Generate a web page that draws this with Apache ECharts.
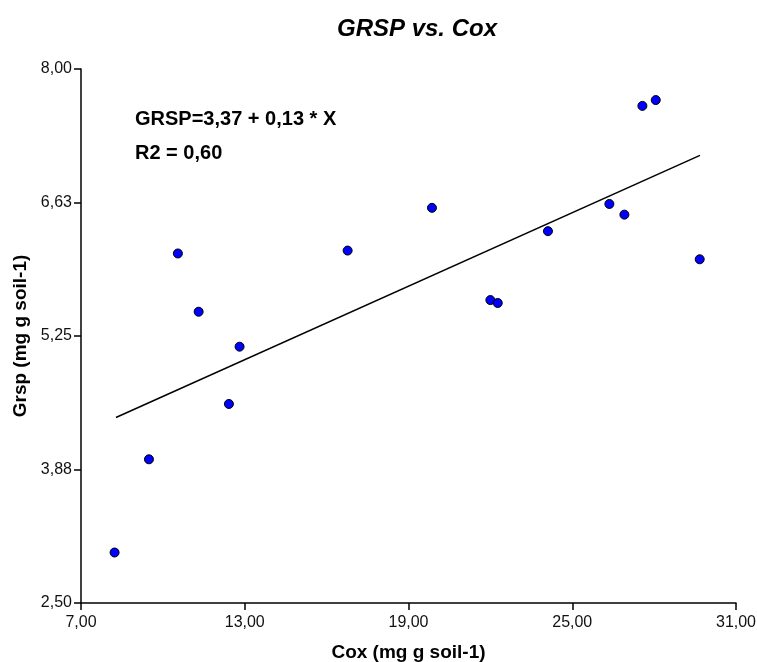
<!DOCTYPE html>
<html>
<head>
<meta charset="utf-8">
<script src="https://cdn.jsdelivr.net/npm/echarts@6/dist/echarts.min.js"></script>
<style>
  html, body { margin: 0; padding: 0; background: #fff; }
  #chart { width: 757px; height: 662px; }
</style>
</head>
<body>
<div id="chart"></div>
<script>
// observed points (Cox, Grsp)
const coxValues = [8.23, 9.49, 10.55, 11.31, 12.42, 12.81, 16.77, 19.86, 22.0, 22.27, 24.11, 26.36, 26.91, 27.57, 28.06, 29.67];
const grspValues = [3.02, 3.98, 6.10, 5.50, 4.55, 5.14, 6.13, 6.57, 5.62, 5.59, 6.33, 6.61, 6.50, 7.62, 7.68, 6.04];

// fitted line ends
const fitX = [8.28, 29.68];
const fitY = [4.41, 7.11];

const xTicks = [7, 13, 19, 25, 31];
const xTickLabels = ["7,00", "13,00", "19,00", "25,00", "31,00"];
const yTicks = [2.5, 3.875, 5.25, 6.625, 8];
const yTickLabels = ["2,50", "3,88", "5,25", "6,63", "8,00"];

const chart = echarts.init(document.getElementById("chart"));

const font = "Liberation Sans, Arial, sans-serif";

const axisCommon = {
  axisLine: { show: true, lineStyle: { color: "#000", width: 1.5 } },
  axisTick: { show: true, length: 7, lineStyle: { color: "#000", width: 1.5 } },
  splitLine: { show: false },
  nameTextStyle: { fontFamily: font, fontWeight: "bold", fontSize: 19, color: "#000" },
};

const option = {
  animation: false,
  backgroundColor: "#fff",
  title: {
    text: "GRSP vs. Cox",
    left: 412,
    textAlign: "center",
    top: 12,
    textStyle: { fontFamily: font, fontWeight: "bold", fontStyle: "italic", fontSize: 24, color: "#000" },
  },
  grid: { left: 81, right: 21, top: 69, bottom: 59, containLabel: false, outerBoundsMode: "none" },
  xAxis: {
    ...axisCommon,
    type: "value",
    min: xTicks[0],
    max: xTicks[xTicks.length - 1],
    name: "Cox (mg g soil-1)",
    nameLocation: "middle",
    nameGap: 40,
    axisTick: { ...axisCommon.axisTick, customValues: xTicks },
    axisLabel: {
      customValues: xTicks,
      formatter: (v) => xTickLabels[xTicks.indexOf(v)],
      fontFamily: font, fontSize: 16, color: "#111", margin: 12,
    },
  },
  yAxis: {
    ...axisCommon,
    type: "value",
    min: yTicks[0],
    max: yTicks[yTicks.length - 1],
    name: "Grsp (mg g soil-1)",
    nameLocation: "middle",
    nameGap: 44,
    axisTick: { ...axisCommon.axisTick, customValues: yTicks },
    axisLabel: {
      customValues: yTicks,
      formatter: (v) => yTickLabels[yTicks.indexOf(v)],
      fontFamily: font, fontSize: 16, color: "#111", margin: 9,
    },
  },
  graphic: [
    {
      type: "text", left: 135, top: 109,
      style: { text: "GRSP=3,37 + 0,13 * X", fontFamily: font, fontWeight: "bold", fontSize: 20, fill: "#000" },
    },
    {
      type: "text", left: 135, top: 143,
      style: { text: "R2 = 0,60", fontFamily: font, fontWeight: "bold", fontSize: 20, fill: "#000" },
    },
  ],
  series: [
    {
      type: "line",
      data: fitX.map((x, i) => [x, fitY[i]]),
      symbol: "none",
      lineStyle: { color: "#000", width: 1.5 },
      z: 2,
    },
    {
      type: "scatter",
      data: coxValues.map((x, i) => [x, grspValues[i]]),
      symbolSize: 9,
      itemStyle: { color: "#0000ff", borderColor: "#000", borderWidth: 1, opacity: 1 },
      z: 3,
    },
  ],
};

chart.setOption(option);
</script>
</body>
</html>
